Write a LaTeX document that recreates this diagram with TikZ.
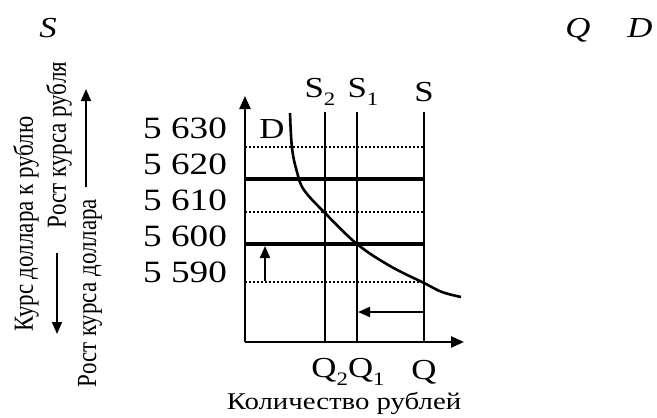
\documentclass[tikz,border=0pt]{standalone}
\usepackage{fontspec}
\setmainfont{Liberation Serif}
\usetikzlibrary{arrows.meta}
\newcommand{\hw}[1]{\scalebox{1.2}[1]{#1}}
\newcommand{\vw}[1]{\scalebox{1}[1.2]{#1}}
\newcommand{\sub}[1]{\raisebox{-0.25em}{\fontsize{19}{19}\selectfont #1}}
\begin{document}
\begin{tikzpicture}[x=1pt,y=-1pt,
  txt/.style={inner sep=0pt, font=\fontsize{29}{29}\selectfont},
  tick/.style={inner sep=0pt, font=\fontsize{31}{31}\selectfont},
  lab/.style={inner sep=0pt, font=\fontsize{24}{24}\selectfont},
  ital/.style={inner sep=0pt, font=\fontsize{29}{29}\selectfont\itshape},
  side/.style={inner sep=0pt, rotate=90, font=\fontsize{23}{23}\selectfont},
  axis/.style={line width=2.4pt, -{Triangle[length=13pt,width=11pt]}},
  sline/.style={line width=2.4pt},
  thick line/.style={line width=4.6pt},
  dotl/.style={line width=1.3pt, dash pattern=on 2pt off 2pt},
  arr/.style={line width=1.8pt, -{Triangle[length=12pt,width=10pt]}},
  curve/.style={line width=2.6pt}
  ]
\useasboundingbox (0,0) rectangle (657,418);
% top italic labels
\node[ital] (tS) at (48,28) {\hw{S}};
\node[ital] (tQ) at (578,30) {\hw{Q}};
\node[ital] (tD) at (640,28) {\hw{D}};
% axes
\coordinate (O) at (245,342);
\coordinate (Ytop) at (245,96);
\coordinate (Xend) at (464,342);
\draw[axis] (O) -- (Ytop);
\draw[axis] (O) -- (Xend);
% supply lines
\coordinate (s2t) at (325,112); \coordinate (s2b) at (325,342);
\coordinate (s1t) at (357,112); \coordinate (s1b) at (357,342);
\coordinate (s0t) at (424,112); \coordinate (s0b) at (424,342);
\draw[sline] (s2t) -- (s2b);
\draw[sline] (s1t) -- (s1b);
\draw[sline] (s0t) -- (s0b);
% horizontal lines
\coordinate (d1a) at (245,147); \coordinate (d1b) at (424,147);
\coordinate (h1a) at (245,179); \coordinate (h1b) at (424,179);
\coordinate (d2a) at (245,212); \coordinate (d2b) at (424,212);
\coordinate (h2a) at (245,244); \coordinate (h2b) at (424,244);
\coordinate (d3a) at (245,282); \coordinate (d3b) at (424,282);
\draw[dotl] (d1a) -- (d1b);
\draw[dotl] (d2a) -- (d2b);
\draw[dotl] (d3a) -- (d3b);
\draw[thick line] (h1a) -- (h1b);
\draw[thick line] (h2a) -- (h2b);
% demand curve
\draw[curve] plot[smooth, tension=0.6] coordinates {(290,113) (292,148) (297,172) (304,190) (325,213) (357,244) (390,266) (424,283) (442,292) (461,297)};
% small arrows
\coordinate (ua) at (265,281); \coordinate (ub) at (265,246);
\draw[arr] (ua) -- (ub);
\coordinate (la) at (424,312); \coordinate (lb) at (358,312);
\draw[arr] (la) -- (lb);
% line labels
\node[txt] (lS2) at (320,92) {\hw{S\sub{2}}};
\node[txt] (lS1) at (363,92) {\hw{S\sub{1}}};
\node[txt] (lS) at (424,92) {\hw{S}};
\node[txt] (lD) at (272,129) {\hw{D}};
\node[txt] (lQ21) at (348,372) {\hw{Q\sub{2}Q\sub{1}}};
\node[txt] (lQ) at (424,372) {\hw{Q}};
\node[lab] (lx) at (344,403) {\hw{Количество рублей}};
% tick labels
\node[tick] (t1) at (185,128) {\hw{5 630}};
\node[tick] (t2) at (185,164) {\hw{5 620}};
\node[tick] (t3) at (185,200) {\hw{5 610}};
\node[tick] (t4) at (185,236) {\hw{5 600}};
\node[tick] (t5) at (185,272) {\hw{5 590}};
% side labels
\node[side] (k1) at (26,224) {\vw{Курс доллара к рублю}};
\node[side] (k2) at (59,145) {\vw{Рост курса рубля}};
\node[side] (k3) at (90,293) {\vw{Рост курса доллара}};
\coordinate (ra) at (86,187); \coordinate (rb) at (86,89);
\draw[arr] (ra) -- (rb);
\coordinate (da) at (57,253); \coordinate (db) at (57,334);
\draw[arr] (da) -- (db);
\end{tikzpicture}
\end{document}
